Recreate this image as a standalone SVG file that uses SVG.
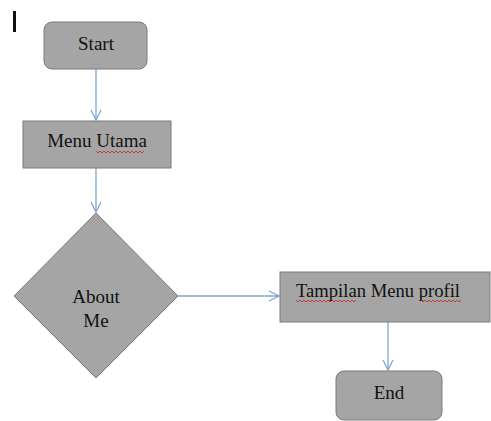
<svg xmlns="http://www.w3.org/2000/svg" width="491" height="421" viewBox="0 0 491 421">
<style>
.n{fill:#a5a5a5;stroke:#7b7b7b;stroke-width:1}
.t{font-family:"Liberation Serif",serif;font-size:19px;fill:#111}
.c{fill:none;stroke:#7ba7d3;stroke-width:1.3}
.sq{fill:none;stroke:#d02020;stroke-width:0.8}
</style>
<defs>
<marker id="a" viewBox="0 0 12 12" refX="11" refY="6" markerWidth="12" markerHeight="12" markerUnits="userSpaceOnUse" orient="auto">
<path d="M1,1 L11,6 L1,11" fill="none" stroke="#7ba7d3" stroke-width="1.3"/>
</marker>
</defs>
<rect x="13" y="11" width="3" height="21" fill="#111"/>
<g id="connectors">
<line class="c" x1="96" y1="69" x2="96" y2="120" marker-end="url(#a)"/>
<line class="c" x1="96" y1="168" x2="96" y2="212" marker-end="url(#a)"/>
<line class="c" x1="178" y1="296" x2="279" y2="296" marker-end="url(#a)"/>
<line class="c" x1="388" y1="322" x2="388" y2="370" marker-end="url(#a)"/>
</g>
<g id="start">
<rect class="n" x="44" y="22" width="103" height="47" rx="8"/>
<text class="t" x="96" y="50" text-anchor="middle">Start</text>
</g>
<g id="menu-utama">
<rect class="n" x="23" y="121" width="148" height="47"/>
<text class="t" x="97" y="147" text-anchor="middle">Menu Utama</text>
<path class="sq" d="M96,151 l2,2 l2,-2 l2,2 l2,-2 l2,2 l2,-2 l2,2 l2,-2 l2,2 l2,-2 l2,2 l2,-2 l2,2 l2,-2 l2,2 l2,-2 l2,2 l2,-2 l2,2 l2,-2 l2,2 l2,-2 l2,2 l2,-2"/>
</g>
<g id="about-me">
<polygon class="n" points="96,213 178,296 96,378 14,296"/>
<text class="t" x="96" y="303" text-anchor="middle">About</text>
<text class="t" x="96" y="327" text-anchor="middle">Me</text>
</g>
<g id="tampilan">
<rect class="n" x="280" y="272" width="210" height="50"/>
<text class="t" x="296" y="297" font-size="18" textLength="164" lengthAdjust="spacingAndGlyphs">Tampilan Menu profil</text>
<path class="sq" d="M296,300 l2,2 l2,-2 l2,2 l2,-2 l2,2 l2,-2 l2,2 l2,-2 l2,2 l2,-2 l2,2 l2,-2 l2,2 l2,-2 l2,2 l2,-2 l2,2 l2,-2 l2,2 l2,-2 l2,2 l2,-2 l2,2 l2,-2 l2,2 l2,-2 l2,2 l2,-2 l2,2 l2,-2"/>
<path class="sq" d="M421,300 l2,2 l2,-2 l2,2 l2,-2 l2,2 l2,-2 l2,2 l2,-2 l2,2 l2,-2 l2,2 l2,-2 l2,2 l2,-2 l2,2 l2,-2 l2,2 l2,-2 l2,2 l2,-2"/>
</g>
<g id="end">
<rect class="n" x="336" y="371" width="106" height="49" rx="8"/>
<text class="t" x="389" y="399" text-anchor="middle">End</text>
</g>
</svg>
